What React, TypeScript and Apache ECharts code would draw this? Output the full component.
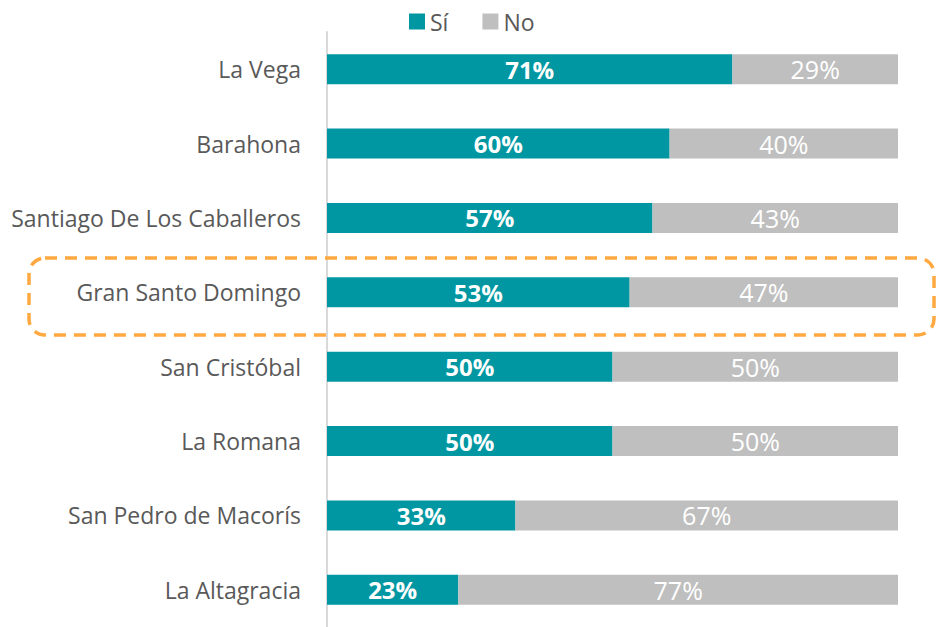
import React, { useEffect, useRef } from "react";
import * as echarts from "echarts";

const categories = [
  "La Vega",
  "Barahona",
  "Santiago De Los Caballeros",
  "Gran Santo Domingo",
  "San Cristóbal",
  "La Romana",
  "San Pedro de Macorís",
  "La Altagracia",
];
const siValues = [71, 60, 57, 53, 50, 50, 33, 23];
const noValues = [29, 40, 43, 47, 50, 50, 67, 77];
const seriesNames = ["Sí", "No"];

const FONT = "'Open Sans', 'Noto Sans', sans-serif";

export default function App() {
  const ref = useRef<HTMLDivElement>(null);
  useEffect(() => {
    if (!ref.current) return;
    const chart = echarts.init(ref.current, undefined, { renderer: "svg" });
    chart.setOption({
      animation: false,
      backgroundColor: "#ffffff",
      legend: {
        top: 5,
        left: 404,
        itemWidth: 16,
        itemHeight: 16,
        itemGap: 34,
        icon: "rect",
        textStyle: { color: "#595959", fontSize: 23, fontFamily: FONT },
        data: seriesNames,
      },
      grid: { left: 327, right: 38, top: 32, height: 599, containLabel: false },
      xAxis: { type: "value", min: 0, max: 100, show: false },
      yAxis: {
        type: "category",
        inverse: true,
        data: categories,
        axisLine: { show: true, lineStyle: { color: "#D9D9D9", width: 2 } },
        axisTick: { show: false },
        axisLabel: { color: "#595959", fontSize: 23, fontFamily: FONT, margin: 26 },
      },
      series: [
        {
          name: seriesNames[0],
          type: "bar",
          stack: "t",
          barWidth: 30,
          data: siValues,
          itemStyle: { color: "#0097A2" },
          label: {
            show: true,
            position: "inside",
            formatter: "{c}%",
            color: "#ffffff",
            fontWeight: "bold",
            fontSize: 24,
            fontFamily: FONT,
          },
        },
        {
          name: seriesNames[1],
          type: "bar",
          stack: "t",
          barWidth: 30,
          data: noValues,
          itemStyle: { color: "#BFBFBF" },
          label: {
            show: true,
            position: "inside",
            formatter: "{c}%",
            color: "#ffffff",
            fontSize: 25,
            fontFamily: FONT,
          },
        },
      ],
      graphic: [
        {
          type: "rect",
          shape: { x: 29, y: 258, width: 905, height: 77, r: 16 },
          style: {
            fill: "none",
            stroke: "#FFA940",
            lineWidth: 3.5,
            lineDash: [12, 8],
          },
          z: 10,
        },
      ],
    });
    return () => chart.dispose();
  }, []);
  return <div ref={ref} style={{ width: 936, height: 627, position: "absolute", left: 0, top: 0 }} />;
}
